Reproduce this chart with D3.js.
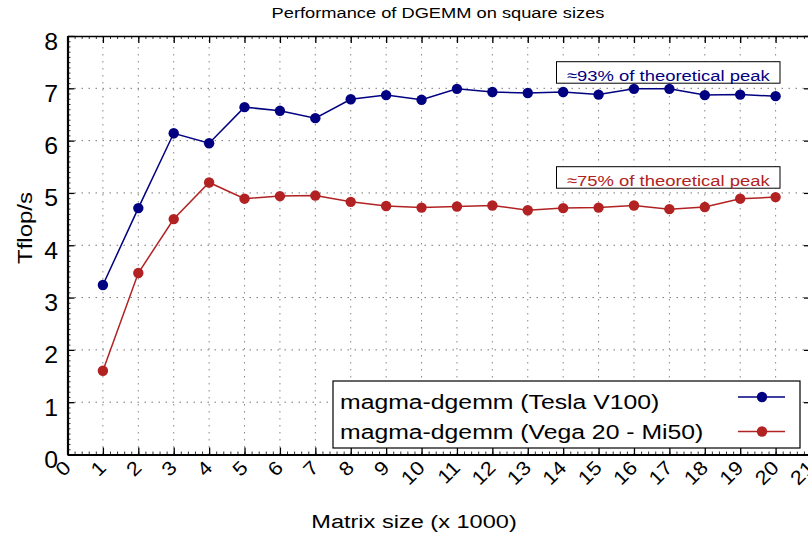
<!DOCTYPE html>
<html>
<head>
<meta charset="utf-8">
<script src="https://cdn.jsdelivr.net/npm/d3@7"></script>
<style>
body { margin: 0; background: #fff; }
svg { display: block; }
text { font-family: "Liberation Sans", Arial, sans-serif; fill: #000; }
</style>
</head>
<body>
<div id="chart"></div>
<script>
// matrix size in thousands
var sizes = [1, 2, 3, 4, 5, 6, 7, 8, 9, 10, 11, 12, 13, 14, 15, 16, 17, 18, 19, 20];
// Tflop/s
var teslaV100 = [3.24, 4.71, 6.14, 5.95, 6.64, 6.57, 6.43, 6.79, 6.87, 6.78, 6.99, 6.93, 6.91, 6.93, 6.88, 6.99, 6.99, 6.87, 6.88, 6.85];
var vega20Mi50 = [1.60, 3.47, 4.50, 5.20, 4.89, 4.94, 4.95, 4.83, 4.75, 4.72, 4.74, 4.76, 4.67, 4.71, 4.72, 4.76, 4.69, 4.73, 4.89, 4.92];
var seriesNames = ["magma-dgemm (Tesla V100)", "magma-dgemm (Vega 20 - Mi50)"];
var peakNotes = ["\u224893% of theoretical peak", "\u224875% of theoretical peak"];
var xTickValues = [0, 1, 2, 3, 4, 5, 6, 7, 8, 9, 10, 11, 12, 13, 14, 15, 16, 17, 18, 19, 20, 21];
var yTickValues = [0, 1, 2, 3, 4, 5, 6, 7, 8];

var blue = "#000080", red = "#b22222";

var svg = d3.select("#chart").append("svg")
    .attr("width", 808)
    .attr("height", 541);

var x = d3.scaleLinear().domain([0, 21]).range([67.5, 811]);
var y = d3.scaleLinear().domain([0, 8]).range([454.5, 36]);

// stretched text, the reference font is wide
function addText(txt, tx, ty, rot, sx, size, anchor, color) {
    return svg.append("text")
        .attr("transform", "translate(" + tx + "," + ty + ") rotate(" + rot + ") scale(" + sx + ",1)")
        .attr("text-anchor", anchor)
        .style("font-size", size + "px")
        .style("fill", color || "#000")
        .text(txt);
}

// grid
var grid = svg.append("g");
grid.selectAll(".vg").data(xTickValues.slice(1, -1)).enter().append("line")
    .attr("x1", d => x(d)).attr("x2", d => x(d))
    .attr("y1", y(0)).attr("y2", y(8))
    .attr("stroke", "#888").attr("stroke-width", 1).attr("stroke-dasharray", "1.5,5.5");
grid.selectAll(".hg").data(yTickValues.slice(1, -1)).enter().append("line")
    .attr("x1", x(0)).attr("x2", x(21))
    .attr("y1", d => y(d)).attr("y2", d => y(d))
    .attr("stroke", "#777").attr("stroke-width", 1).attr("stroke-dasharray", "1.5,5.5");

// peak notes
var noteY = [61.7, 166.7];
var noteBase = [81, 186];
var noteColor = [blue, red];
peakNotes.forEach(function (n, i) {
    svg.append("rect")
        .attr("x", 556.5).attr("y", noteY[i])
        .attr("width", 223.5).attr("height", 21.5)
        .attr("fill", "#fff").attr("stroke", "#000").attr("stroke-width", 1);
    addText(n, 567, noteBase[i], 0, 1.19, 15.5, "start", noteColor[i]);
});

// axes
function styleAxis(g, w) {
    g.select(".domain").attr("stroke", "#000").attr("stroke-width", w);
    g.selectAll(".tick line").attr("stroke", "#000").attr("stroke-width", 1.3);
}
var xMinor = d3.range(0, 21.001, 0.2);
var yMinor = d3.range(0, 8.001, 0.1);

var bottomMinor = svg.append("g").attr("transform", "translate(0," + y(0) + ")")
    .call(d3.axisBottom(x).tickValues(xMinor).tickSizeInner(-3).tickSizeOuter(0).tickFormat(""));
var topMinor = svg.append("g").attr("transform", "translate(0," + y(8) + ")")
    .call(d3.axisTop(x).tickValues(xMinor).tickSizeInner(-3).tickSizeOuter(0).tickFormat(""));
var leftMinor = svg.append("g").attr("transform", "translate(" + x(0) + ",0)")
    .call(d3.axisLeft(y).tickValues(yMinor).tickSizeInner(-3).tickSizeOuter(0).tickFormat(""));
var rightMinor = svg.append("g").attr("transform", "translate(" + x(21) + ",0)")
    .call(d3.axisRight(y).tickValues(yMinor).tickSizeInner(-3).tickSizeOuter(0).tickFormat(""));
[bottomMinor, topMinor, leftMinor, rightMinor].forEach(g => { styleAxis(g, 0); g.selectAll(".tick line").attr("stroke-width", 0.8); });

var bottomAxis = svg.append("g").attr("transform", "translate(0," + y(0) + ")")
    .call(d3.axisBottom(x).tickValues(xTickValues).tickSizeInner(-7).tickSizeOuter(0).tickFormat(""));
var topAxis = svg.append("g").attr("transform", "translate(0," + y(8) + ")")
    .call(d3.axisTop(x).tickValues(xTickValues).tickSizeInner(-7).tickSizeOuter(0).tickFormat(""));
var leftAxis = svg.append("g").attr("transform", "translate(" + x(0) + ",0)")
    .call(d3.axisLeft(y).tickValues(yTickValues).tickSizeInner(-7).tickSizeOuter(0).tickFormat(""));
var rightAxis = svg.append("g").attr("transform", "translate(" + x(21) + ",0)")
    .call(d3.axisRight(y).tickValues(yTickValues).tickSizeInner(-7).tickSizeOuter(0).tickFormat(""));
styleAxis(bottomAxis, 2);
styleAxis(topAxis, 1.5);
styleAxis(leftAxis, 2.2);
styleAxis(rightAxis, 1.5);

// tick labels
xTickValues.forEach(function (v) {
    addText(String(v), x(v) + 4.5, 469, -45, 1.12, 19.5, "end");
});
yTickValues.forEach(function (v) {
    addText(String(v), 58, y(v) + 13.5, 0, 1.08, 23, "end");
});

// series
function drawSeries(vals, color) {
    var pts = sizes.map((s, i) => [s, vals[i]]);
    var line = d3.line().x(d => x(d[0])).y(d => y(d[1]));
    svg.append("path").datum(pts)
        .attr("d", line).attr("fill", "none")
        .attr("stroke", color).attr("stroke-width", 1.5);
    svg.append("g").selectAll("circle").data(pts).enter().append("circle")
        .attr("cx", d => x(d[0])).attr("cy", d => y(d[1]))
        .attr("r", 5.2).attr("fill", color);
}
drawSeries(teslaV100, blue);
drawSeries(vega20Mi50, red);

// legend
svg.append("rect")
    .attr("x", 333).attr("y", 381).attr("width", 467).attr("height", 67)
    .attr("fill", "#fff").attr("stroke", "#000").attr("stroke-width", 1.2);
var legText = [408.5, 439];
var legLine = [397, 431.5];
var legColor = [blue, red];
seriesNames.forEach(function (n, i) {
    addText(n, 340, legText[i], 0, 1.18, 21, "start");
    svg.append("line")
        .attr("x1", 738).attr("x2", 785).attr("y1", legLine[i]).attr("y2", legLine[i])
        .attr("stroke", legColor[i]).attr("stroke-width", 1.5);
    svg.append("circle").attr("cx", 762).attr("cy", legLine[i]).attr("r", 5.2).attr("fill", legColor[i]);
});

// titles
addText("Performance of DGEMM on square sizes", 438, 17.5, 0, 1.26, 14.5, "middle");
addText("Matrix size (x 1000)", 414, 528, 0, 1.24, 19, "middle");
addText("Tflop/s", 32, 228, -90, 1.2, 20, "middle");
</script>
</body>
</html>
